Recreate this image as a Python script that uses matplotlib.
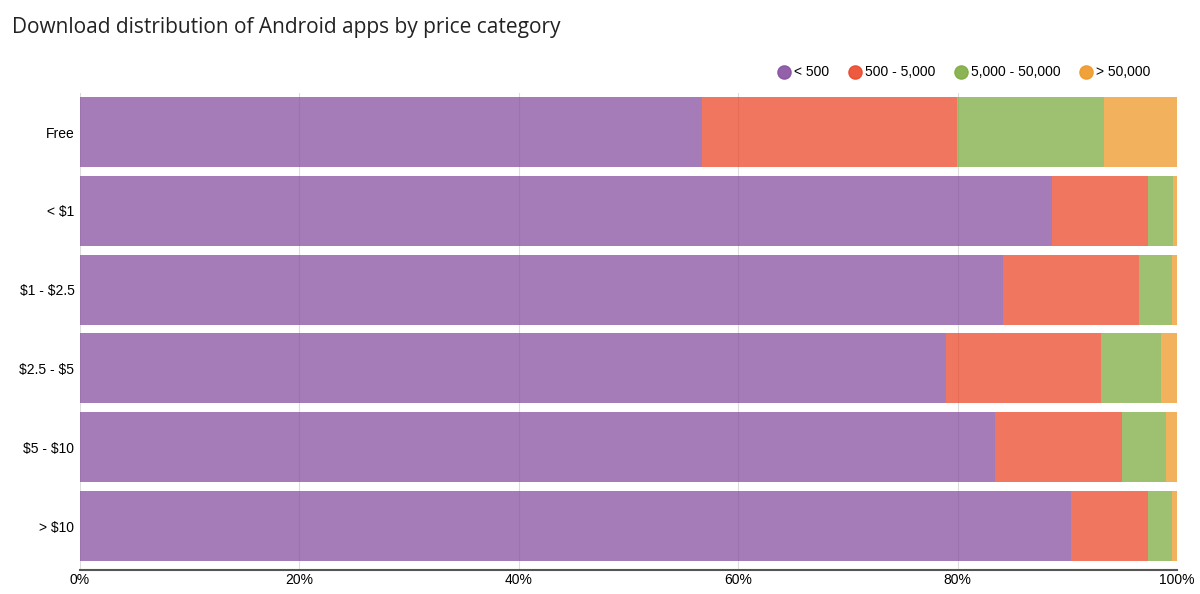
import matplotlib.pyplot as plt
from matplotlib.lines import Line2D

# data (percent of apps per download bucket)
categories = ['Free', '< \\$1', '\\$1 - \\$2.5', '\\$2.5 - \\$5', '\\$5 - \\$10', '> \\$10']
series_names = ['< 500', '500 - 5,000', '5,000 - 50,000', '> 50,000']
lt_500 = [56.7, 88.6, 84.1, 78.9, 83.4, 90.3]
d500_5k = [23.2, 8.8, 12.4, 14.2, 11.6, 7.1]
d5k_50k = [13.4, 2.2, 3.0, 5.4, 4.0, 2.1]
gt_50k = [6.7, 0.4, 0.5, 1.5, 1.0, 0.5]
xticks = [0, 20, 40, 60, 80, 100]
xtick_labels = ['0%', '20%', '40%', '60%', '80%', '100%']

colors = ['#8750a0', '#eb482b', '#7eac42', '#ee9827']

fig = plt.figure(figsize=(12, 5.94), dpi=100)
ax = fig.add_axes([80 / 1200, 24 / 594, 1097 / 1200, 477 / 594])

font = ['Liberation Sans', 'DejaVu Sans']

ypos = list(range(len(categories)))
left = [0] * len(categories)
for vals, name, c in zip([lt_500, d500_5k, d5k_50k, gt_50k], series_names, colors):
    ax.barh(ypos, vals, height=0.888, left=left, color=c, alpha=0.75,
            edgecolor='none', zorder=2)
    left = [l + v for l, v in zip(left, vals)]

ax.set_xlim(0, 100)
ax.set_ylim(5.558, -0.495)
ax.set_yticks(ypos)
ax.set_yticklabels(categories, family=font, fontsize=10)
ax.set_xticks(xticks)
ax.set_xticklabels(xtick_labels, family=font, fontsize=10)
ax.tick_params(length=0, pad=4)
ax.tick_params(axis='x', pad=2)

ax.grid(axis='x', color='#dddddd', linewidth=0.8, zorder=1)
for s in ['top', 'right', 'left']:
    ax.spines[s].set_visible(False)
ax.spines['bottom'].set_color('#555555')
ax.spines['bottom'].set_linewidth(1.5)

fig.text(12 / 1200, 1 - 27 / 594, 'Download distribution of Android apps by price category',
         family=['Open Sans', 'DejaVu Sans'], fontsize=15, va='center', ha='left',
         color='#222222')

# legend laid out by hand like the original
leg_x = [784, 855, 961, 1086]
for x, name, c in zip(leg_x, series_names, colors):
    fig.add_artist(Line2D([x / 1200], [1 - 72 / 594], marker='o', linestyle='none',
                          markersize=9.5, markerfacecolor=c, markeredgecolor=c,
                          alpha=0.9, transform=fig.transFigure))
    fig.text((x + 10) / 1200, 1 - 72 / 594, name, family=font, fontsize=10,
             va='center', ha='left')

plt.savefig('out.png', dpi=100)
